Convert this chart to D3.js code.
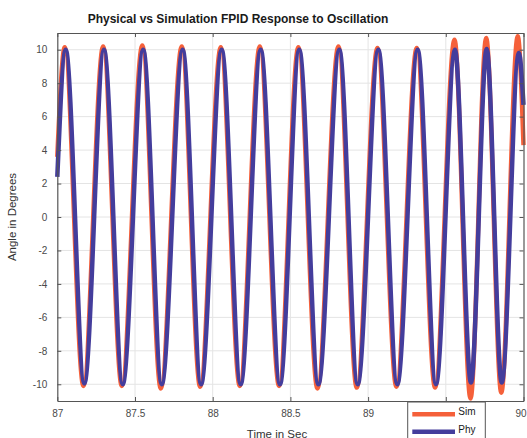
<!DOCTYPE html>
<html><head><meta charset="utf-8">
<script src="https://cdn.jsdelivr.net/npm/d3@7"></script>
<style>
html,body{margin:0;padding:0;background:#fff;}
svg{display:block;font-family:"Liberation Sans",Arial,sans-serif;}
</style></head>
<body><svg id="chart" width="527" height="438"></svg>
<script>
// ---- data ----
const titleText = "Physical vs Simulation FPID Response to Oscillation";
const xLabelText = "Time in Sec";
const yLabelText = "Angle in Degrees";
const xTicks = [87, 87.5, 88, 88.5, 89, 89.5, 90];
const xTickLabels = ["87", "87.5", "88", "88.5", "89", "89.5", "90"];
const yTicks = [-10, -8, -6, -4, -2, 0, 2, 4, 6, 8, 10];
const yTickLabels = ["-10", "-8", "-6", "-4", "-2", "0", "2", "4", "6", "8", "10"];
const seriesNames = ["Sim", "Phy"];

// Sim (orange): start, alternating peaks / troughs, end
const simTime = [87.000, 87.048, 87.168, 87.295, 87.415, 87.547, 87.666, 87.801, 87.919, 88.052, 88.174,
  88.303, 88.427, 88.551, 88.674, 88.809, 88.927, 89.060, 89.182, 89.313, 89.431, 89.556, 89.659,
  89.760, 89.857, 89.963, 90.000];
const simAngle = [3.6, 10.15, -10.1, 10.2, -10.1, 10.25, -10.25, 10.2, -10.15, 10.15, -10.1,
  10.2, -10.1, 10.15, -10.25, 10.2, -10.2, 10.1, -10.15, 10.1, -10.2, 10.6, -10.85,
  10.7, -10.5, 10.8, 4.3];

// Phy (blue)
const phyTime = [87.000, 87.054, 87.174, 87.3005, 87.421, 87.553, 87.672, 87.807, 87.925, 88.058, 88.180,
  88.309, 88.433, 88.557, 88.680, 88.815, 88.933, 89.066, 89.188, 89.319, 89.437, 89.559, 89.662,
  89.763, 89.860, 89.970, 90.000];
const phyAngle = [2.4, 10.0, -9.95, 10.0, -10.0, 10.0, -10.0, 10.0, -10.0, 10.0, -10.0,
  10.0, -10.0, 10.0, -10.0, 10.0, -10.0, 10.0, -10.0, 10.0, -10.0, 10.0, -9.9,
  10.05, -9.9, 9.8, 6.7];

// ---- drawing ----
const svg = d3.select("#chart");
const L = 57.3, R = 523.5, T = 33, B = 401;
const x = d3.scaleLinear().domain([87, 90]).range([L, R]);
const y = d3.scaleLinear().domain([-11, 11]).range([B, T]);
const colors = {Sim: "#F5603A", Phy: "#443D9C"};

// grid
const grid = svg.append("g");
grid.selectAll("line.gx").data(xTicks.slice(1, -1)).join("line")
  .attr("x1", d => x(d)).attr("x2", d => x(d)).attr("y1", T).attr("y2", B)
  .attr("stroke", "#e4e4e4").attr("stroke-width", 1);
grid.selectAll("line.gy").data(yTicks).join("line")
  .attr("x1", L).attr("x2", R).attr("y1", d => y(d)).attr("y2", d => y(d))
  .attr("stroke", "#e4e4e4").attr("stroke-width", 1);

// lines
const line = d3.line().x(d => x(d[0])).y(d => y(d[1])).curve(d3.curveMonotoneX);
const simData = simTime.map((t, i) => [t, simAngle[i]]);
const phyData = phyTime.map((t, i) => [t, phyAngle[i]]);
svg.append("path").datum(simData).attr("d", line).attr("fill", "none")
  .attr("stroke", colors.Sim).attr("stroke-width", 4.5).attr("stroke-linejoin", "round");
svg.append("path").datum(phyData).attr("d", line).attr("fill", "none")
  .attr("stroke", colors.Phy).attr("stroke-width", 4.5).attr("stroke-linejoin", "round");

// axes
const axCol = "#555";
function styleAxis(g) {
  g.select(".domain").attr("stroke", axCol).attr("stroke-width", 1.2);
  g.selectAll(".tick line").attr("stroke", axCol);
  g.selectAll(".tick text").attr("fill", "#4a4a4a").attr("font-size", 10)
    .attr("font-family", "Liberation Sans, Arial, sans-serif");
}
const xb = svg.append("g").attr("transform", `translate(0,${B})`)
  .call(d3.axisBottom(x).tickValues(xTicks).tickSizeInner(-4).tickSizeOuter(0).tickPadding(9)
    .tickFormat((d, i) => xTickLabels[i]));
styleAxis(xb);
// keep the last label inside the picture, as in the reference
xb.selectAll(".tick text").filter(d => d === 90).attr("dx", -3);
const xt = svg.append("g").attr("transform", `translate(0,${T})`)
  .call(d3.axisTop(x).tickValues(xTicks).tickSizeInner(-4).tickSizeOuter(0).tickFormat(""));
styleAxis(xt);
const yl = svg.append("g").attr("transform", `translate(${L},0)`)
  .call(d3.axisLeft(y).tickValues(yTicks).tickSizeInner(-4).tickSizeOuter(0).tickPadding(10)
    .tickFormat((d, i) => yTickLabels[i]));
styleAxis(yl);
const yr = svg.append("g").attr("transform", `translate(${R},0)`)
  .call(d3.axisRight(y).tickValues(yTicks).tickSizeInner(-4).tickSizeOuter(0).tickFormat(""));
styleAxis(yr);

// title and labels
svg.append("text").attr("x", 238).attr("y", 23).attr("text-anchor", "middle")
  .attr("font-size", 12).attr("font-weight", "bold").attr("fill", "#1a1a1a").text(titleText);
svg.append("text").attr("x", 277).attr("y", 437.5).attr("text-anchor", "middle")
  .attr("font-size", 11.5).attr("fill", "#333").text(xLabelText);
svg.append("text").attr("transform", `translate(16,${(T + B) / 2}) rotate(-90)`)
  .attr("text-anchor", "middle").attr("font-size", 11.5).attr("fill", "#333").text(yLabelText);

// legend
const lg = svg.append("g");
lg.append("rect").attr("x", 407.7).attr("y", 402).attr("width", 77.6).attr("height", 50)
  .attr("fill", "#fff").attr("stroke", "#555").attr("stroke-width", 1);
const legY = [414.3, 431.7];
seriesNames.forEach((n, i) => {
  lg.append("line").attr("x1", 412.3).attr("x2", 455).attr("y1", legY[i]).attr("y2", legY[i])
    .attr("stroke", colors[n]).attr("stroke-width", 4.5);
  lg.append("text").attr("x", 458.3).attr("y", legY[i] + 1).attr("font-size", 10)
    .attr("fill", "#1a1a1a").text(n);
});
</script></body></html>
